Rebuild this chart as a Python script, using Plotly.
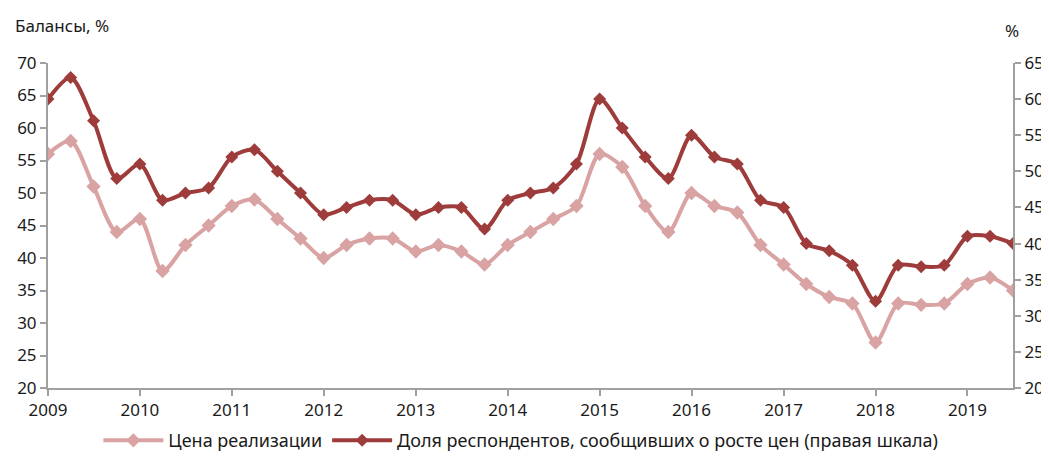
import plotly.graph_objects as go
import pandas as pd

quarters = pd.date_range("2009-01-01", periods=43, freq="QS").strftime("%Y-%m-%d").tolist()

price = [56, 58, 51, 44, 46, 38, 42, 45, 48, 49, 46, 43, 40, 42, 43, 43,
         41, 42, 41, 39, 42, 44, 46, 48, 56, 54, 48, 44, 50, 48, 47, 42,
         39, 36, 34, 33, 27, 33, 32.8, 33, 36, 37, 35]

share = [60, 63, 57, 49, 51, 46, 47, 47.7, 52, 53, 50, 47, 44, 45, 46, 46,
         44, 45, 45, 42, 46, 47, 47.7, 51, 60, 56, 52, 49, 55, 52, 51, 46,
         45, 40, 39, 37, 32, 37, 36.8, 37, 41, 41, 40]

year_ticks = [f"{y}-01-01" for y in range(2009, 2020)]
year_labels = [str(y) for y in range(2009, 2020)]

left_ticks = list(range(20, 75, 5))
right_ticks = list(range(20, 70, 5))

name_price = "Цена реализации"
name_share = "Доля респондентов, сообщивших о росте цен (правая шкала)"

light = "#D9A3A3"
dark = "#9E3B3B"
axis_col = "#A0A0A0"
font_family = "Noto Sans"

fig = go.Figure()
fig.add_trace(go.Scatter(
    x=quarters, y=price, name=name_price, mode="lines+markers",
    line=dict(color=light, width=4, shape="spline", smoothing=0.8),
    marker=dict(symbol="diamond", size=11, color=light),
    yaxis="y"))
fig.add_trace(go.Scatter(
    x=quarters, y=share, name=name_share, mode="lines+markers",
    line=dict(color=dark, width=4, shape="spline", smoothing=0.8),
    marker=dict(symbol="diamond", size=10, color=dark),
    yaxis="y2"))

axis_common = dict(showgrid=False, zeroline=False, showline=True, linecolor=axis_col,
                   linewidth=2, ticks="outside", ticklen=6, tickcolor=axis_col,
                   tickwidth=2, tickfont=dict(size=17), automargin=False)

fig.update_layout(
    width=1041, height=449,
    margin=dict(l=40, r=36, t=55, b=69, autoexpand=False),
    paper_bgcolor="white", plot_bgcolor="white",
    font=dict(family=font_family, size=17, color="#1a1a1a"),
    showlegend=True,
    legend=dict(orientation="h", x=0.49, xanchor="center", y=-0.105, yanchor="top",
                font=dict(size=18), itemwidth=60, tracegroupgap=0),
    xaxis=dict(type="date", range=["2009-01-01", "2019-07-01"],
               tickvals=year_ticks, ticktext=year_labels, **axis_common),
    yaxis=dict(range=[20, 70], tickvals=left_ticks, **axis_common),
    yaxis2=dict(range=[20, 65], tickvals=right_ticks, overlaying="y", side="right",
                **axis_common),
    annotations=[
        dict(text="Балансы, %", xref="paper", yref="paper", x=-0.036, y=1.115,
             xanchor="left", yanchor="middle", showarrow=False, font=dict(size=17)),
        dict(text="%", xref="paper", yref="paper", x=0.999, y=1.10,
             xanchor="center", yanchor="middle", showarrow=False, font=dict(size=17)),
    ],
)

fig.write_html("out.html")
